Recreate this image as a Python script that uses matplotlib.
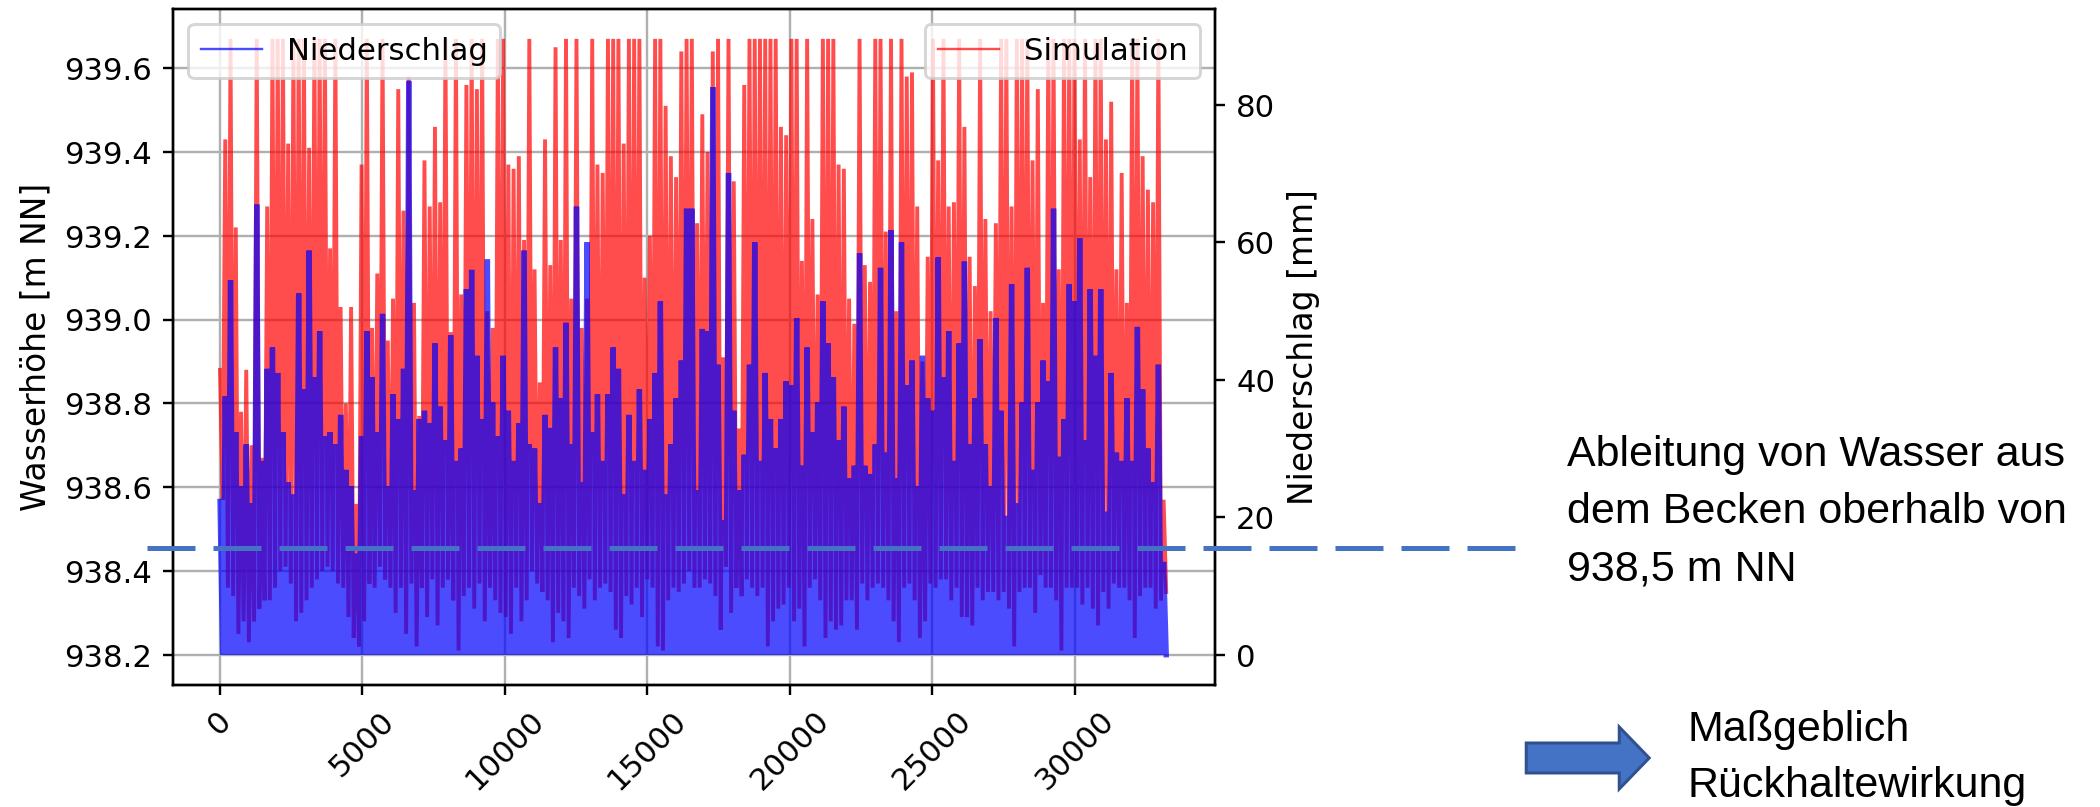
import numpy as np
import matplotlib.pyplot as plt
from matplotlib.lines import Line2D
from matplotlib.patches import FancyArrow

W, H, DPI = 2100, 807, 215
C = 939.67  # Ueberlauf, Simulation wird hier abgeschnitten

sim_hi = [938.88, 939.43, C, 939.22, 938.78, 938.88, 938.70, C, 938.67, 939.27,
          C, C, C, 939.42, C, C, C, 939.41, C, C,
          C, 939.17, C, 939.03, 938.80, 939.03, 938.56, 939.37, C, 938.98,
          939.11, C, 938.95, 939.05, 939.55, 939.26, 939.58, 939.04, 938.77, 939.38,
          939.27, 939.46, 939.28, C, 938.97, C, 939.06, 939.56, C, 939.55,
          C, 939.02, 938.98, C, C, 939.37, 939.36, 939.39, 939.19, C,
          939.12, 938.85, 939.43, 939.13, 939.65, 939.19, C, 939.05, C, 938.98,
          939.05, C, 939.37, 939.35, C, C, C, 939.42, C, C,
          C, 939.10, 939.20, C, C, 939.51, 939.39, 939.34, 939.64, C,
          C, 939.23, 939.49, 939.40, 939.64, C, 938.91, C, 939.33, 938.74,
          939.56, C, C, C, C, C, C, 939.46, 939.44, C,
          C, 939.14, C, 939.24, 939.06, C, C, C, 939.37, 939.36,
          939.05, 938.99, C, 939.13, 939.09, C, C, 939.21, C, 939.02,
          C, 939.58, 939.59, 939.27, 938.90, 939.15, C, 939.38, C, 939.27,
          939.28, C, 939.46, 939.15, 939.08, C, 939.24, 939.02, 939.23, C,
          C, 939.27, C, C, C, 939.38, 939.55, 939.04, C, C,
          939.12, C, C, C, 939.43, C, 939.34, C, C, 939.43,
          939.52, 939.12, 939.35, 939.04, C, C, 939.39, 939.31, 939.28, C,
          938.57]
sim_lo = [938.57, 938.36, 938.34, 938.25, 938.28, 938.23, 938.28, 938.31, 938.33, 938.33,
          938.36, 938.40, 938.41, 938.37, 938.28, 938.30, 938.33, 938.36, 938.38, 938.40,
          938.41, 938.40, 938.37, 938.36, 938.29, 938.24, 938.22, 938.28, 938.37, 938.36,
          938.41, 938.38, 938.36, 938.30, 938.36, 938.25, 938.37, 938.22, 938.36, 938.29,
          938.38, 938.27, 938.36, 938.38, 938.33, 938.21, 938.34, 938.36, 938.31, 938.37,
          938.28, 938.36, 938.33, 938.30, 938.29, 938.25, 938.36, 938.28, 938.33, 938.40,
          938.37, 938.35, 938.33, 938.23, 938.30, 938.28, 938.24, 938.36, 938.34, 938.31,
          938.38, 938.33, 938.36, 938.37, 938.35, 938.26, 938.24, 938.34, 938.32, 938.36,
          938.29, 938.38, 938.36, 938.22, 938.21, 938.33, 938.36, 938.35, 938.37, 938.40,
          938.36, 938.36, 938.38, 938.37, 938.34, 938.26, 938.41, 938.30, 938.36, 938.34,
          938.38, 938.36, 938.34, 938.36, 938.22, 938.28, 938.31, 938.32, 938.36, 938.28,
          938.31, 938.22, 938.36, 938.38, 938.33, 938.24, 938.28, 938.26, 938.27, 938.33,
          938.33, 938.26, 938.37, 938.33, 938.36, 938.37, 938.36, 938.33, 938.28, 938.23,
          938.36, 938.37, 938.33, 938.24, 938.28, 938.37, 938.36, 938.38, 938.38, 938.33,
          938.36, 938.29, 938.29, 938.27, 938.36, 938.33, 938.35, 938.35, 938.33, 938.35,
          938.31, 938.22, 938.35, 938.36, 938.36, 938.30, 938.39, 938.36, 938.36, 938.33,
          938.21, 938.36, 938.36, 938.36, 938.32, 938.36, 938.31, 938.27, 938.35, 938.31,
          938.37, 938.36, 938.36, 938.33, 938.24, 938.34, 938.36, 938.36, 938.31, 938.33,
          938.35]
# Niederschlag-Spitzen [mm], dazwischen faellt die Kurve auf 0
rain_hi = [22.3, 37.6, 54.5, 32.4, 24.5, 30.6, 22.0, 65.5, 28.2, 41.6,
           44.7, 41.0, 32.4, 25.1, 23.3, 52.6, 38.6, 58.8, 40.4, 47.1,
           31.8, 32.4, 30.6, 34.9, 26.9, 24.5, 14.7, 31.8, 47.1, 40.4,
           32.4, 49.6, 24.5, 37.9, 34.3, 41.6, 83.5, 23.9, 34.3, 35.5,
           33.7, 45.3, 36.1, 31.2, 46.5, 28.2, 30.0, 53.2, 56.0, 43.5,
           34.3, 57.5, 36.7, 31.8, 43.5, 35.5, 28.2, 33.7, 58.8, 30.6,
           30.0, 22.0, 34.9, 33.0, 44.7, 37.3, 48.3, 30.6, 65.2, 25.1,
           60.0, 32.4, 37.9, 28.2, 37.9, 44.7, 41.6, 23.3, 34.9, 28.2,
           38.6, 26.9, 34.3, 41.0, 51.4, 23.3, 30.6, 37.3, 42.8, 64.9,
           64.9, 23.9, 47.4, 47.1, 82.6, 42.2, 19.6, 70.1, 35.5, 23.9,
           29.1, 42.2, 60.0, 28.2, 41.0, 34.3, 30.0, 34.3, 39.8, 39.2,
           49.0, 27.5, 44.7, 32.4, 36.7, 51.4, 45.3, 40.4, 31.2, 36.1,
           25.7, 27.5, 58.4, 27.5, 26.3, 30.6, 56.3, 29.4, 61.8, 25.7,
           60.0, 39.2, 42.8, 24.5, 43.5, 37.3, 35.5, 57.8, 40.4, 47.1,
           28.2, 45.3, 57.2, 30.6, 37.3, 45.9, 30.6, 24.5, 49.0, 35.5,
           20.2, 53.9, 22.0, 36.7, 56.3, 26.9, 36.7, 42.8, 39.8, 64.9,
           28.8, 34.3, 53.9, 51.4, 60.6, 31.2, 53.2, 43.5, 53.2, 20.8,
           41.0, 29.4, 28.2, 37.3, 28.2, 47.7, 38.6, 30.0, 25.1, 42.2,
           13.5]
step = 184

t = np.arange(len(sim_hi)) * step
x = np.column_stack([t, t + step / 2]).ravel()
sim = np.column_stack([sim_hi, sim_lo]).ravel()
rain = np.column_stack([rain_hi, np.zeros(len(rain_hi))]).ravel()

plt.rcParams['font.size'] = 10.3
plt.rcParams['axes.labelsize'] = 11

fig = plt.figure(figsize=((W + 0.3) / DPI, (H + 0.3) / DPI), dpi=DPI)
ax = fig.add_axes([173 / W, 1 - 685 / H, (1215 - 173) / W, (685 - 9) / H])

# Linienbreite ~ Abstand der Stuetzstellen, damit die Flaeche dicht wirkt
ax.plot(x, sim, color='red', alpha=0.7, lw=1.3, solid_joinstyle='bevel')
ax.set_xlim(-1650, 34930)
ax.set_ylim(938.128, 939.742)
ax.set_xticks(range(0, 30001, 5000))
plt.setp(ax.get_xticklabels(), rotation=45)
ax.set_ylabel('Wasserhöhe [m NN]')
ax.grid(True)
ax.legend(handles=[Line2D([], [], color='red', alpha=0.7, lw=0.8)],
          labels=['Simulation'], loc='upper right')

ax2 = ax.twinx()
ax2.plot(x, rain, color='blue', alpha=0.7, lw=1.8, solid_joinstyle='bevel')
ax2.set_ylim(-4.4, 94)
ax2.set_yticks([0, 20, 40, 60, 80])
ax2.set_ylabel('Niederschlag [mm]')
ax2.legend(handles=[Line2D([], [], color='blue', alpha=0.7, lw=0.8)],
           labels=['Niederschlag'], loc='upper left')

# gestrichelte Linie bei 938,5 m NN (Folien-Overlay)
fig.add_artist(Line2D([147 / W, 1515 / W], [1 - 548 / H, 1 - 548 / H],
                      transform=fig.transFigure, color='#4472C4',
                      lw=5 * 72 / DPI, linestyle=(0, (9.6, 3.6))))

txt = dict(fontsize=14.4, family=['Liberation Sans', 'DejaVu Sans'], va='baseline', ha='left')
fig.text(1567 / W, 1 - 466 / H, 'Ableitung von Wasser aus', **txt)
fig.text(1567 / W, 1 - 523 / H, 'dem Becken oberhalb von', **txt)
fig.text(1567 / W, 1 - 580 / H, '938,5 m NN', **txt)
fig.text(1687 / W, 1 - 741 / H, 'Maßgeblich', **txt)
fig.text(1687 / W, 1 - 797 / H, 'Rückhaltewirkung', **txt)

fig.add_artist(FancyArrow(1526 / W, 1 - 758 / H, (1649 - 1526) / W, 0,
                          width=30 / H, head_width=62 / H, head_length=30 / W,
                          length_includes_head=True, transform=fig.transFigure,
                          fc='#4472C4', ec='#2F528F', lw=1))

fig.savefig('out.png', dpi=DPI)
